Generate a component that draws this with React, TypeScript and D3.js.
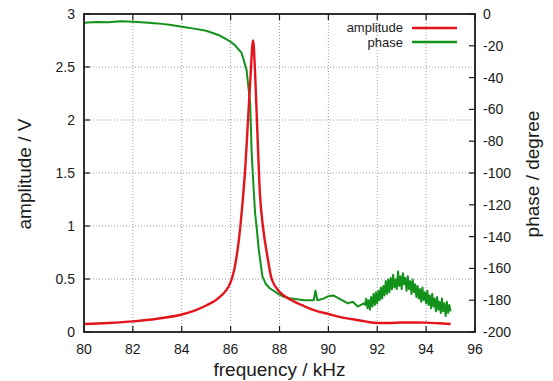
import * as d3 from "d3"

// amplitude (V) vs frequency (kHz)
const ampFreq = [80, 81, 82, 83, 84, 84.5, 85, 85.5, 86, 86.2, 86.4, 86.5, 86.6, 86.7, 86.8, 86.92, 87, 87.1, 87.2, 87.32, 87.5, 87.68, 88, 88.5, 89, 89.5, 90, 90.5, 91, 91.5, 92, 92.5, 93, 93.5, 94, 94.5, 95]
const ampValue = [0.075, 0.085, 0.1, 0.125, 0.165, 0.2, 0.25, 0.32, 0.47, 0.65, 1.0, 1.25, 1.55, 1.95, 2.35, 2.75, 2.45, 1.85, 1.3, 1.0, 0.72, 0.5, 0.38, 0.3, 0.245, 0.2, 0.17, 0.14, 0.12, 0.1, 0.085, 0.085, 0.09, 0.09, 0.088, 0.082, 0.075]

// phase (degree), smooth part
const phaseFreq = [80, 80.5, 81, 81.5, 82, 82.5, 83, 83.5, 84, 84.5, 85, 85.5, 86, 86.2, 86.45, 86.65, 86.8, 86.86, 86.95, 87, 87.07, 87.15, 87.3, 87.45, 87.6, 88, 88.2, 88.5, 89, 89.4, 89.47, 89.5, 89.55, 89.8, 90, 90.2, 90.5, 90.8, 91, 91.2, 91.45]
const phaseValue = [-5.5, -5, -5.2, -4.6, -4.8, -5.4, -5.9, -6.8, -8, -9.2, -10.5, -13.2, -17.4, -20, -24.5, -35, -56, -87, -112, -125, -135, -148, -165, -170, -172.5, -176.5, -178, -179, -180, -180, -174, -176, -180, -179, -177.5, -177, -179.5, -182, -181, -184, -182]

// phase, noisy tail from 91.5 kHz in 0.05 kHz steps
const noisyStart = 91.5
const noisyStep = 0.05
const phaseNoisy = [-183, -179, -185, -180, -186, -178, -184, -176, -183, -175, -182, -174, -180, -172, -179, -171, -177, -168, -176, -167, -175, -166, -173, -164, -172, -167, -173, -162, -171, -165, -173, -163, -170, -166, -174, -165, -173, -168, -176, -167, -175, -170, -178, -171, -179, -173, -181, -172, -180, -175, -182, -174, -183, -177, -185, -176, -184, -179, -187, -178, -186, -181, -188, -179, -187, -182, -190, -181, -188, -183, -187]

const xTicks = [80, 82, 84, 86, 88, 90, 92, 94, 96]
const yTicks = [0, 0.5, 1, 1.5, 2, 2.5, 3]
const y2Ticks = [0, -20, -40, -60, -80, -100, -120, -140, -160, -180, -200]

export default function App() {
    const width = 553
    const height = 381
    const left = 84
    const right = 475
    const top = 14
    const bottom = 332

    const red = "#e3141c"
    const green = "#12921a"
    const ink = "#1a1a1a"
    const font = "'Liberation Sans', Arial, sans-serif"

    const x = d3.scaleLinear().domain([80, 96]).range([left, right])
    const y = d3.scaleLinear().domain([0, 3]).range([bottom, top])
    const y2 = d3.scaleLinear().domain([-200, 0]).range([bottom, top])

    const ampPts: [number, number][] = ampFreq.map((f, i) => [f, ampValue[i]])
    const phasePts: [number, number][] = phaseFreq.map((f, i) => [f, phaseValue[i]] as [number, number])
        .concat(phaseNoisy.map((v, i) => [noisyStart + i * noisyStep, v] as [number, number]))

    const ampLine = d3.line<[number, number]>().x((d) => x(d[0])).y((d) => y(d[1])).curve(d3.curveMonotoneX)
    const phaseLine = d3.line<[number, number]>().x((d) => x(d[0])).y((d) => y2(d[1])).curve(d3.curveLinear)

    const tick = 6

    return (
        <svg
            width={width}
            height={height}
            style={{ position: "fixed", left: 0, top: 0, background: "#fff" }}
            fontFamily={font}
        >
            {/* grid */}
            {xTicks.slice(1, -1).map((t) => (
                <line key={"gx" + t} x1={x(t)} x2={x(t)} y1={top} y2={bottom}
                    stroke="#999" strokeWidth={1} strokeDasharray="1,2" />
            ))}
            {yTicks.slice(1, -1).map((t) => (
                <line key={"gy" + t} x1={left} x2={right} y1={y(t)} y2={y(t)}
                    stroke="#999" strokeWidth={1} strokeDasharray="1,2" />
            ))}

            {/* ticks, inward */}
            {xTicks.map((t) => (
                <g key={"tx" + t}>
                    <line x1={x(t)} x2={x(t)} y1={bottom} y2={bottom - tick} stroke={ink} strokeWidth={1.2} />
                    <line x1={x(t)} x2={x(t)} y1={top} y2={top + tick} stroke={ink} strokeWidth={1.2} />
                    <text x={x(t)} y={bottom + 22} textAnchor="middle" fontSize={14} fill={ink}>{t}</text>
                </g>
            ))}
            {yTicks.map((t) => (
                <g key={"ty" + t}>
                    <line x1={left} x2={left + tick} y1={y(t)} y2={y(t)} stroke={ink} strokeWidth={1.2} />
                    <text x={75} y={y(t) + 5} textAnchor="end" fontSize={14} fill={ink}>{t}</text>
                </g>
            ))}
            {y2Ticks.map((t) => (
                <g key={"ty2" + t}>
                    <line x1={right} x2={right - tick} y1={y2(t)} y2={y2(t)} stroke={ink} strokeWidth={1.2} />
                    <text x={483} y={y2(t) + 5} textAnchor="start" fontSize={14} fill={ink}>{t}</text>
                </g>
            ))}

            {/* data */}
            <path d={phaseLine(phasePts) ?? ""} fill="none" stroke={green} strokeWidth={2} strokeLinejoin="round" />
            <path d={ampLine(ampPts) ?? ""} fill="none" stroke={red} strokeWidth={2.4} strokeLinejoin="round" />

            {/* frame */}
            <rect x={left} y={top} width={right - left} height={bottom - top} fill="none" stroke={ink} strokeWidth={1.8} />

            {/* legend */}
            <text x={403} y={32} textAnchor="end" fontSize={13} fill={ink}>amplitude</text>
            <line x1={412} x2={457} y1={28} y2={28} stroke={red} strokeWidth={2.4} />
            <text x={403} y={46.5} textAnchor="end" fontSize={13} fill={ink}>phase</text>
            <line x1={412} x2={457} y1={42} y2={42} stroke={green} strokeWidth={2.4} />

            {/* axis titles */}
            <text x={(left + right) / 2} y={376} textAnchor="middle" fontSize={19} fill={ink}>frequency / kHz</text>
            <text transform={`translate(31,174) rotate(-90)`} textAnchor="middle" fontSize={19} fill={ink}>amplitude / V</text>
            <text transform={`translate(539,174) rotate(-90)`} textAnchor="middle" fontSize={19} fill={ink}>phase / degree</text>
        </svg>
    )
}
